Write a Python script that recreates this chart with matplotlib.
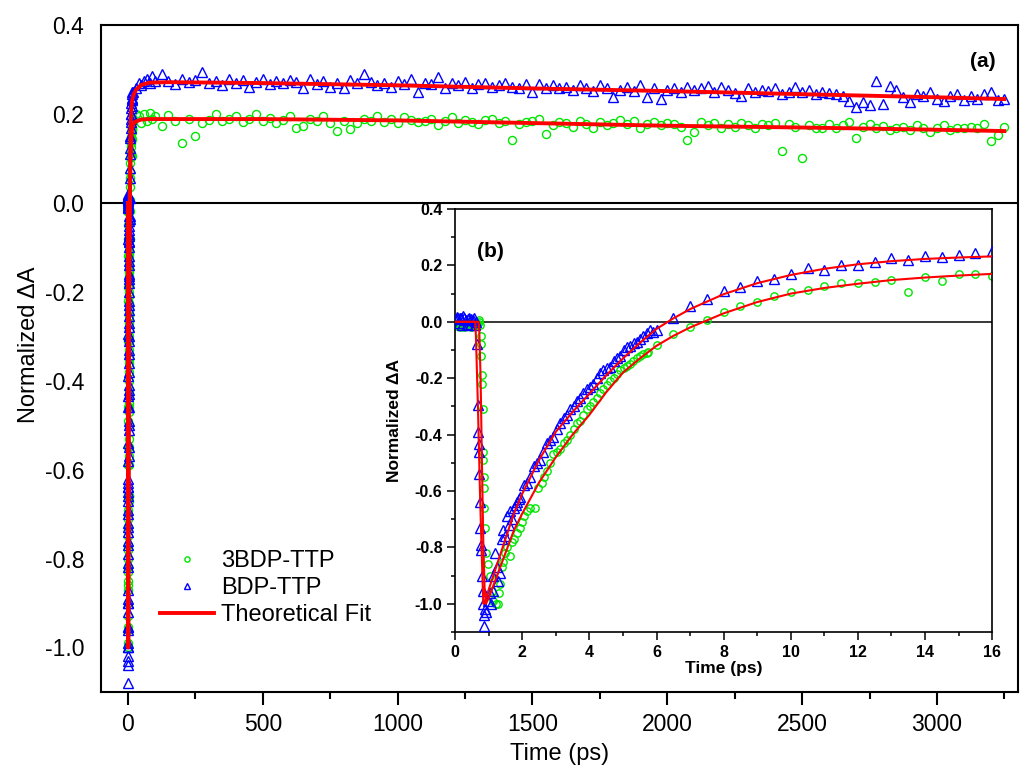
import numpy as np
import matplotlib
matplotlib.use("Agg")
import matplotlib.pyplot as plt
from matplotlib.ticker import MultipleLocator

plt.rcParams["font.family"] = ["Liberation Sans", "DejaVu Sans"]

GREEN = "#00e600"
BLUE = "#0000ff"
RED = "#ff0000"

# ---- early-time data (0-16 ps), shown in inset (b) and at t~0 in (a) ----
BDP_T_SHORT = [
    0.02, 0.05, 0.08, 0.12, 0.15, 0.18, 0.22, 0.25, 0.28, 0.32,
    0.35, 0.38, 0.42, 0.45, 0.48, 0.52, 0.55, 0.58, 0.62, 0.65,
    0.68, 0.69, 0.70, 0.71, 0.72, 0.73, 0.75, 0.77, 0.78, 0.80,
    0.82, 0.84, 0.85, 0.86, 0.88, 0.92, 0.99, 1.04, 1.08, 1.12,
    1.14, 1.19, 1.24, 1.29, 1.34, 1.39, 1.44, 1.49, 1.54, 1.60,
    1.64, 1.70, 1.74, 1.80, 1.84, 1.90, 1.94, 2.04, 2.14, 2.24,
    2.34, 2.43, 2.53, 2.63, 2.73, 2.83, 2.93, 3.03, 3.13, 3.23,
    3.33, 3.43, 3.53, 3.63, 3.72, 3.82, 3.92, 4.02, 4.12, 4.22,
    4.32, 4.42, 4.52, 4.62, 4.72, 4.82, 4.92, 5.02, 5.12, 5.22,
    5.32, 5.41, 5.51, 5.61, 5.71, 5.81, 5.91, 6.01, 6.5, 7.0,
    7.5, 8.0, 8.5, 9.0, 9.5, 10.0, 10.5, 11.0, 11.5, 12.0,
    12.5, 13.0, 13.5, 14.0, 14.5, 15.0, 15.5, 16.0,
]
BDP_V_SHORT = [
    0.01, 0.018, 0.012, -0.005, 0.015, 0.012, -0.01, 0.02, 0.012, 0.006,
    -0.008, 0.01, 0.015, -0.012, 0.01, 0.005, 0.012, -0.01, 0.0, -0.08,
    -0.295, -0.39, -0.435, -0.46, -0.54, -0.64, -0.73, -0.79, -0.81, -0.90,
    -0.955, -1.0, -1.04, -1.08, -1.02, -1.03, -0.99, -0.96, -1.0, -0.955,
    -0.90, -0.82, -0.87, -0.92, -0.89, -0.77, -0.74, -0.76, -0.69, -0.72,
    -0.67, -0.70, -0.66, -0.65, -0.64, -0.63, -0.62, -0.58, -0.57, -0.55,
    -0.51, -0.50, -0.49, -0.46, -0.43, -0.42, -0.41, -0.38, -0.36, -0.34,
    -0.33, -0.31, -0.30, -0.28, -0.27, -0.254, -0.24, -0.23, -0.22, -0.20,
    -0.18, -0.17, -0.165, -0.16, -0.14, -0.13, -0.12, -0.10, -0.088, -0.085,
    -0.075, -0.07, -0.06, -0.052, -0.04, -0.029, -0.035, -0.029, 0.012, 0.056,
    0.08, 0.11, 0.125, 0.146, 0.151, 0.168, 0.19, 0.183, 0.20, 0.201,
    0.213, 0.225, 0.219, 0.235, 0.231, 0.237, 0.245, 0.251,
]
TBDP_T_SHORT = [
    0.03, 0.07, 0.1, 0.14, 0.18, 0.22, 0.26, 0.3, 0.34, 0.38,
    0.42, 0.46, 0.5, 0.54, 0.58, 0.62, 0.66, 0.7, 0.72, 0.75,
    0.76, 0.77, 0.78, 0.79, 0.80, 0.82, 0.83, 0.84, 0.85, 0.86,
    0.87, 0.89, 0.92, 0.97, 1.04, 1.09, 1.14, 1.22, 1.29, 1.32,
    1.34, 1.39, 1.44, 1.49, 1.56, 1.64, 1.69, 1.76, 1.84, 1.92,
    1.99, 2.06, 2.14, 2.24, 2.39, 2.48, 2.58, 2.66, 2.73, 2.83,
    2.93, 3.03, 3.13, 3.23, 3.33, 3.43, 3.53, 3.63, 3.72, 3.82,
    3.92, 4.02, 4.12, 4.22, 4.32, 4.42, 4.52, 4.62, 4.72, 4.82,
    4.92, 5.02, 5.12, 5.21, 5.31, 5.41, 5.51, 5.61, 5.71, 5.76,
    6.01, 6.5, 7.0, 7.5, 8.0, 8.5, 9.0, 9.5, 10.0, 10.5,
    11.0, 11.5, 12.0, 12.5, 13.0, 13.5, 14.0, 14.5, 15.0, 15.5,
    16.0,
]
TBDP_V_SHORT = [
    -0.01, -0.015, -0.005, -0.018, -0.012, -0.008, -0.02, -0.01, -0.015, -0.006,
    -0.012, -0.018, -0.008, -0.014, -0.01, -0.016, -0.005, 0.0, 0.005, -0.01,
    -0.05, -0.08, -0.12, -0.19, -0.22, -0.31, -0.46, -0.49, -0.55, -0.59,
    -0.66, -0.73, -0.82, -0.86, -0.90, -0.955, -0.99, -1.0, -1.0, -0.96,
    -0.93, -0.87, -0.85, -0.82, -0.80, -0.83, -0.78, -0.77, -0.75, -0.73,
    -0.71, -0.69, -0.67, -0.66, -0.66, -0.59, -0.57, -0.55, -0.53, -0.50,
    -0.47, -0.46, -0.45, -0.43, -0.42, -0.40, -0.38, -0.36, -0.35, -0.33,
    -0.31, -0.30, -0.285, -0.27, -0.254, -0.24, -0.225, -0.21, -0.20, -0.185,
    -0.17, -0.165, -0.155, -0.15, -0.14, -0.13, -0.12, -0.115, -0.11, -0.106,
    -0.082, -0.043, -0.018, 0.006, 0.036, 0.057, 0.071, 0.091, 0.104, 0.113,
    0.127, 0.136, 0.139, 0.142, 0.148, 0.107, 0.159, 0.145, 0.168, 0.168,
    0.164,
]

# ---- long-time data (20-3250 ps), panel (a) ----
T_LONG = [
    20, 30, 40, 50, 60, 70, 80, 90, 100,
    125, 150, 175, 200, 225, 250, 275, 300, 325, 350,
    375, 400, 425, 450, 475, 500, 525, 550, 575, 600,
    625, 650, 675, 700, 725, 750, 775, 800, 825, 850,
    875, 900, 925, 950, 975, 1000, 1025, 1050, 1075, 1100,
    1125, 1150, 1175, 1200, 1225, 1250, 1275, 1300, 1325, 1350,
    1375, 1400, 1425, 1450, 1475, 1500, 1525, 1550, 1575, 1600,
    1625, 1650, 1675, 1700, 1725, 1750, 1775, 1800, 1825, 1850,
    1875, 1900, 1925, 1950, 1975, 2000, 2025, 2050, 2075, 2100,
    2125, 2150, 2175, 2200, 2225, 2250, 2275, 2300, 2325, 2350,
    2375, 2400, 2425, 2450, 2475, 2500, 2525, 2550, 2575, 2600,
    2625, 2650, 2675, 2700, 2725, 2750, 2775, 2800, 2825, 2850,
    2875, 2900, 2925, 2950, 2975, 3000, 3025, 3050, 3075, 3100,
    3125, 3150, 3175, 3200, 3225, 3250,
]
BDP_V_LONG = [
    0.25, 0.26, 0.27, 0.265, 0.275, 0.28, 0.27, 0.285, 0.275,
    0.29, 0.275, 0.268, 0.28, 0.272, 0.278, 0.295, 0.27, 0.275, 0.265,
    0.28, 0.27, 0.276, 0.262, 0.272, 0.28, 0.268, 0.275, 0.27, 0.278,
    0.272, 0.26, 0.28, 0.268, 0.275, 0.262, 0.27, 0.258, 0.276, 0.27,
    0.29, 0.272, 0.265, 0.27, 0.262, 0.275, 0.268, 0.28, 0.249, 0.27,
    0.268, 0.284, 0.26, 0.27, 0.265, 0.272, 0.26, 0.268, 0.27, 0.262,
    0.265, 0.27, 0.262, 0.258, 0.268, 0.249, 0.267, 0.26, 0.265, 0.258,
    0.262, 0.255, 0.265, 0.258, 0.252, 0.265, 0.26, 0.239, 0.255, 0.262,
    0.252, 0.265, 0.239, 0.258, 0.235, 0.255, 0.26, 0.25, 0.262, 0.255,
    0.26, 0.263, 0.25, 0.262, 0.255, 0.248, 0.24, 0.258, 0.25, 0.255,
    0.252, 0.258, 0.245, 0.25, 0.262, 0.25, 0.255, 0.245, 0.25, 0.248,
    0.245, 0.24, 0.23, 0.216, 0.227, 0.22, 0.275, 0.224, 0.263, 0.255,
    0.238, 0.227, 0.245, 0.24, 0.25, 0.235, 0.23, 0.242, 0.245, 0.232,
    0.24, 0.235, 0.245, 0.25, 0.232, 0.234,
]
TBDP_V_LONG = [
    0.19, 0.2, 0.195, 0.18, 0.2, 0.185, 0.203, 0.19, 0.195,
    0.173, 0.199, 0.185, 0.135, 0.19, 0.152, 0.18, 0.188, 0.201, 0.185,
    0.19, 0.195, 0.182, 0.19, 0.201, 0.185, 0.192, 0.18, 0.188, 0.195,
    0.168, 0.173, 0.19, 0.185, 0.195, 0.18, 0.163, 0.185, 0.166, 0.18,
    0.19, 0.185, 0.195, 0.183, 0.19, 0.18, 0.194, 0.188, 0.182, 0.185,
    0.19, 0.175, 0.185, 0.193, 0.18, 0.188, 0.183, 0.178, 0.186, 0.19,
    0.18, 0.185, 0.143, 0.178, 0.183, 0.185, 0.19, 0.155, 0.175, 0.183,
    0.18, 0.172, 0.185, 0.178, 0.17, 0.183, 0.175, 0.18, 0.186, 0.178,
    0.184, 0.17, 0.178, 0.182, 0.175, 0.18, 0.178, 0.172, 0.143, 0.16,
    0.183, 0.175, 0.18, 0.17, 0.178, 0.172, 0.18, 0.175, 0.17, 0.177,
    0.175, 0.18, 0.118, 0.178, 0.172, 0.102, 0.175, 0.168, 0.17, 0.178,
    0.17, 0.175, 0.183, 0.147, 0.172, 0.178, 0.168, 0.173, 0.165, 0.17,
    0.172, 0.165, 0.175, 0.168, 0.16, 0.17, 0.175, 0.165, 0.17, 0.168,
    0.172, 0.168, 0.179, 0.14, 0.153, 0.172,
]

# ---- theoretical fits ----
BDP_FIT_T_SHORT = [0, 0.6, 0.62, 0.68, 0.74, 0.8, 0.84, 0.9, 1.0, 1.25, 1.5,
                   1.75, 2.0, 2.5, 3.0, 3.5, 4.0, 4.5, 5.0, 5.5, 6.0, 6.5,
                   7, 8, 9, 10, 11, 12, 13, 14, 15, 16]
BDP_FIT_V_SHORT = [0, 0, -0.05, -0.3, -0.6, -0.85, -1.0, -0.99, -0.95, -0.86,
                   -0.77, -0.68, -0.61, -0.49, -0.39, -0.32, -0.255, -0.19,
                   -0.13, -0.075, -0.025, 0.012, 0.045, 0.098, 0.137, 0.166,
                   0.188, 0.204, 0.215, 0.223, 0.228, 0.232]
TBDP_FIT_T_SHORT = [0, 0.7, 0.72, 0.76, 0.8, 0.84, 0.88, 0.92, 1.0, 1.25, 1.5,
                    1.75, 2.0, 2.5, 3.0, 3.5, 4.0, 4.5, 5.0, 5.5, 6.0, 6.5,
                    7.0, 7.5, 8, 9, 10, 11, 12, 13, 14, 15, 16]
TBDP_FIT_V_SHORT = [0, 0, -0.03, -0.2, -0.5, -0.78, -0.95, -1.0, -0.98, -0.9,
                    -0.82, -0.74, -0.68, -0.57, -0.48, -0.40, -0.33, -0.25,
                    -0.18, -0.13, -0.085, -0.05, -0.02, 0.005, 0.03, 0.07,
                    0.10, 0.12, 0.135, 0.148, 0.157, 0.164, 0.17]
FIT_T_LONG = [20, 30, 50, 80, 150, 500, 1000, 1500, 2000, 2500, 3000, 3250]
BDP_FIT_V_LONG = [0.242, 0.255, 0.266, 0.271, 0.272, 0.27, 0.265, 0.258,
                  0.252, 0.245, 0.238, 0.234]
TBDP_FIT_V_LONG = [0.178, 0.184, 0.188, 0.189, 0.189, 0.189, 0.186, 0.18,
                   0.174, 0.17, 0.165, 0.162]

LABELS = ["3BDP-TTP", "BDP-TTP", "Theoretical Fit"]


def main():
    fig = plt.figure(figsize=(10.25, 7.67), dpi=100)

    # ---------------- panel (a) ----------------
    ax = fig.add_axes([0.0985, 0.098, 0.8945, 0.869])
    t_bdp = np.concatenate([BDP_T_SHORT, T_LONG])
    v_bdp = np.concatenate([BDP_V_SHORT, BDP_V_LONG])
    t_tb = np.concatenate([TBDP_T_SHORT, T_LONG])
    v_tb = np.concatenate([TBDP_V_SHORT, TBDP_V_LONG])

    ax.axhline(0.0, color="black", lw=1.5, zorder=1)
    ax.plot(t_tb, v_tb, ls="none", marker="o", ms=5.8, mfc="none",
            mec=GREEN, mew=1.0, label=LABELS[0], zorder=2)
    ax.plot(t_bdp, v_bdp, ls="none", marker="^", ms=7.2, mfc="none",
            mec=BLUE, mew=1.0, label=LABELS[1], zorder=3)
    ax.plot(np.concatenate([TBDP_FIT_T_SHORT, FIT_T_LONG]),
            np.concatenate([TBDP_FIT_V_SHORT, TBDP_FIT_V_LONG]),
            color=RED, lw=2.8, zorder=4, label=LABELS[2])
    ax.plot(np.concatenate([BDP_FIT_T_SHORT, FIT_T_LONG]),
            np.concatenate([BDP_FIT_V_SHORT, BDP_FIT_V_LONG]),
            color=RED, lw=2.8, zorder=4)

    ax.set_xlim(-100, 3300)
    ax.set_ylim(-1.1, 0.4)
    ax.xaxis.set_major_locator(MultipleLocator(500))
    ax.xaxis.set_minor_locator(MultipleLocator(250))
    ax.yaxis.set_major_locator(MultipleLocator(0.2))
    ax.yaxis.set_major_formatter(matplotlib.ticker.FormatStrFormatter("%.1f"))
    ax.tick_params(axis="x", which="major", direction="out", length=9,
                   width=1.5, labelsize=16.5, pad=6)
    ax.tick_params(axis="x", which="minor", direction="out", length=5,
                   width=1.5)
    ax.tick_params(axis="y", which="both", length=0, labelsize=16.5, pad=12)
    for s in ax.spines.values():
        s.set_linewidth(1.5)

    ax.set_xlabel("Time (ps)", fontsize=17, labelpad=5)
    ax.set_ylabel("Normalized \u0394A", fontsize=17)
    ax.yaxis.set_label_coords(-0.066, 0.52)
    ax.text(0.962, 0.945, "(a)", transform=ax.transAxes, fontsize=15,
            fontweight="bold", ha="center", va="center")

    ax.legend(loc="upper left", bbox_to_anchor=(160 / 1025, 1 - 550 / 767),
              bbox_transform=fig.transFigure, frameon=False, fontsize=17,
              markerscale=0.65, handlelength=2.3, handletextpad=0.3,
              labelspacing=0.22, borderpad=0, borderaxespad=0)

    # ---------------- inset (b) ----------------
    axi = fig.add_axes([0.444, 0.176, 0.524, 0.5515])
    axi.axhline(0.0, color="black", lw=1.1, zorder=1)
    axi.plot(TBDP_T_SHORT, TBDP_V_SHORT, ls="none", marker="o", ms=5.3,
             mfc="none", mec=GREEN, mew=1.0, zorder=2)
    axi.plot(BDP_T_SHORT, BDP_V_SHORT, ls="none", marker="^", ms=6.8,
             mfc="none", mec=BLUE, mew=1.0, zorder=3)
    axi.plot(TBDP_FIT_T_SHORT, TBDP_FIT_V_SHORT, color=RED, lw=1.5, zorder=4)
    axi.plot(BDP_FIT_T_SHORT, BDP_FIT_V_SHORT, color=RED, lw=1.5, zorder=4)

    axi.set_xlim(0, 16)
    axi.set_ylim(-1.1, 0.4)
    axi.xaxis.set_major_locator(MultipleLocator(2))
    axi.xaxis.set_minor_locator(MultipleLocator(1))
    axi.yaxis.set_major_locator(MultipleLocator(0.2))
    axi.yaxis.set_minor_locator(MultipleLocator(0.1))
    axi.yaxis.set_major_formatter(matplotlib.ticker.FormatStrFormatter("%.1f"))
    axi.tick_params(which="major", direction="out", length=6, width=1.1,
                    labelsize=11.5, pad=3)
    axi.tick_params(which="minor", direction="out", length=3, width=1.1)
    for lab in axi.get_xticklabels() + axi.get_yticklabels():
        lab.set_fontweight("bold")
    for s in axi.spines.values():
        s.set_linewidth(1.2)

    axi.set_xlabel("Time (ps)", fontsize=12.5, fontweight="bold", labelpad=1)
    axi.set_ylabel("Normalized \u0394A", fontsize=12.5, fontweight="bold",
                   labelpad=9)
    axi.text(0.065, 0.9, "(b)", transform=axi.transAxes, fontsize=15,
             fontweight="bold", ha="center", va="center")

    fig.savefig("out.png", dpi=100)
    plt.close(fig)


if __name__ == "__main__":
    main()
